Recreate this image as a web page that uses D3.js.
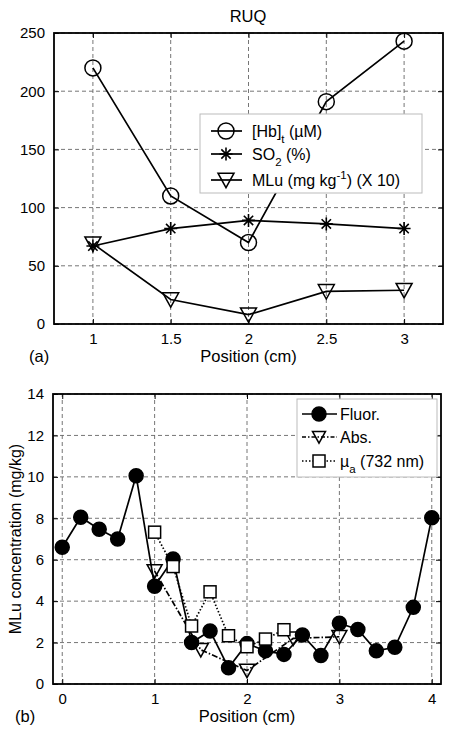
<!DOCTYPE html>
<html><head><meta charset="utf-8">
<script src="https://cdn.jsdelivr.net/npm/d3@7"></script>
<style>
html,body{margin:0;padding:0;background:#fff;}
text{font-family:"Liberation Sans",Arial,sans-serif;fill:#000;}
</style></head>
<body>
<svg id="c" width="450" height="732"></svg>
<script>
// ---- Data: panel (a) ----
const posA = [1, 1.5, 2, 2.5, 3];
const hbT = [220, 110, 70, 191, 243];
const so2 = [67, 82, 89, 86, 82];
const mluA = [69, 21, 8, 28, 29];
const xTicksA = [1, 1.5, 2, 2.5, 3];
const yTicksA = [0, 50, 100, 150, 200, 250];

// ---- Data: panel (b) ----
const fluorX = [0, 0.2, 0.4, 0.6, 0.8, 1.0, 1.2, 1.4, 1.6, 1.8, 2.0, 2.2, 2.4, 2.6, 2.8, 3.0, 3.2, 3.4, 3.6, 3.8, 4.0];
const fluorY = [6.6, 8.05, 7.47, 7.0, 10.05, 4.72, 6.03, 2.0, 2.56, 0.78, 1.95, 1.6, 1.43, 2.37, 1.38, 2.93, 2.63, 1.6, 1.77, 3.7, 8.03];
const absX = [1, 1.5, 2, 2.5, 3];
const absY = [5.45, 1.65, 0.65, 2.2, 2.28];
const muaX = [1, 1.2, 1.4, 1.6, 1.8, 2.0, 2.2, 2.4];
const muaY = [7.33, 5.67, 2.8, 4.45, 2.33, 1.8, 2.17, 2.62];
const xTicksB = [0, 1, 2, 3, 4];
const yTicksB = [0, 2, 4, 6, 8, 10, 12, 14];

const svg = d3.select("#c");
const FS = 15;

function frame(g, x, y, xt, yt, xlab, panelLab, labY) {
  const [x0, x1] = x.range(), [y0, y1] = y.range();
  g.append("g").selectAll("line").data(xt).join("line")
    .attr("x1", d => x(d)).attr("x2", d => x(d)).attr("y1", y0).attr("y2", y1)
    .attr("stroke", "#666").attr("stroke-width", 0.9).attr("stroke-dasharray", "4,3");
  g.append("g").selectAll("line").data(yt).join("line")
    .attr("y1", d => y(d)).attr("y2", d => y(d)).attr("x1", x0).attr("x2", x1)
    .attr("stroke", "#666").attr("stroke-width", 0.9).attr("stroke-dasharray", "4,3");
  g.append("g").attr("transform", `translate(0,${y0})`)
    .call(d3.axisBottom(x).tickValues(xt).tickSize(-5).tickPadding(9).tickFormat(d3.format("")))
    .call(a => a.select(".domain").remove());
  g.append("g").attr("transform", `translate(0,${y1})`)
    .call(d3.axisTop(x).tickValues(xt).tickSize(-5).tickFormat(""))
    .call(a => a.select(".domain").remove());
  g.append("g").attr("transform", `translate(${x0},0)`)
    .call(d3.axisLeft(y).tickValues(yt).tickSize(-5).tickPadding(9))
    .call(a => a.select(".domain").remove());
  g.append("g").attr("transform", `translate(${x1},0)`)
    .call(d3.axisRight(y).tickValues(yt).tickSize(-5).tickFormat(""))
    .call(a => a.select(".domain").remove());
  g.selectAll(".tick line").attr("stroke", "#000").attr("stroke-width", 1);
  g.selectAll(".tick text").attr("font-size", FS).attr("font-family", '"Liberation Sans",Arial,sans-serif').attr("fill", "#000");
  g.append("rect").attr("x", x0).attr("y", y1).attr("width", x1 - x0).attr("height", y0 - y1)
    .attr("fill", "none").attr("stroke", "#000").attr("stroke-width", 1.8);
  g.append("text").attr("x", (x0 + x1) / 2).attr("y", labY).attr("text-anchor", "middle")
    .attr("font-size", 16.5).text(xlab);
  g.append("text").attr("x", panelLab[0]).attr("y", labY).attr("font-size", 16.5).text(panelLab[1]);
}

function drawMarker(sel, type, size, fill) {
  const s = size / 2;
  if (type === "circle") {
    sel.append("circle").attr("r", s).attr("fill", fill).attr("stroke", "#000").attr("stroke-width", 1.5);
  } else if (type === "tri") {
    sel.append("path").attr("d", `M${-s},${-s * 0.85}L${s},${-s * 0.85}L0,${s * 0.95}Z`)
      .attr("fill", fill).attr("stroke", "#000").attr("stroke-width", 1.5);
  } else if (type === "square") {
    sel.append("rect").attr("x", -s).attr("y", -s).attr("width", size).attr("height", size)
      .attr("fill", fill).attr("stroke", "#000").attr("stroke-width", 1.5);
  } else if (type === "star") {
    const d = s * 0.72;
    sel.append("path").attr("d", `M${-s},0L${s},0M0,${-s}L0,${s}M${-d},${-d}L${d},${d}M${-d},${d}L${d},${-d}`)
      .attr("stroke", "#000").attr("stroke-width", 1.6).attr("fill", "none");
  }
}

function series(g, x, y, xs, ys, dash, type, size, fill) {
  const pts = xs.map((v, i) => [v, ys[i]]);
  g.append("path").datum(pts)
    .attr("d", d3.line().x(d => x(d[0])).y(d => y(d[1])))
    .attr("fill", "none").attr("stroke", "#000").attr("stroke-width", 1.7)
    .attr("stroke-dasharray", dash);
  g.append("g").selectAll("g").data(pts).join("g")
    .attr("transform", d => `translate(${x(d[0])},${y(d[1])})`)
    .each(function () { drawMarker(d3.select(this), type, size, fill); });
}

// ===== Panel (a) =====
const xA = d3.scaleLinear().domain([0.75, 3.25]).range([54, 443]);
const yA = d3.scaleLinear().domain([0, 250]).range([324, 33]);
const gA = svg.append("g");
frame(gA, xA, yA, xTicksA, yTicksA, "Position (cm)", [29, "(a)"], 362);
svg.append("text").attr("x", 248).attr("y", 22).attr("text-anchor", "middle").attr("font-size", 16.5).text("RUQ");
series(gA, xA, yA, posA, hbT, null, "circle", 16, "none");
series(gA, xA, yA, posA, so2, null, "star", 13, "none");
series(gA, xA, yA, posA, mluA, null, "tri", 16, "none");

// legend (a)
const lA = svg.append("g");
lA.append("rect").attr("x", 200).attr("y", 114).attr("width", 222).attr("height", 79)
  .attr("fill", "#fff").attr("stroke", "#bbb").attr("stroke-width", 1);
const legA = [
  { y: 131, type: "circle", size: 16, parts: [["[Hb]", 0], ["t", 1], [" (\u00b5M)", 0]] },
  { y: 154, type: "star", size: 13, parts: [["SO", 0], ["2", 1], [" (%)", 0]] },
  { y: 180, type: "tri", size: 16, parts: [["MLu (mg kg", 0], ["-1", -1], [") (X 10)", 0]] }
];
legA.forEach(e => {
  lA.append("line").attr("x1", 211).attr("x2", 242).attr("y1", e.y).attr("y2", e.y).attr("stroke", "#000").attr("stroke-width", 1.7);
  drawMarker(lA.append("g").attr("transform", `translate(226,${e.y})`), e.type, e.size, "none");
  const t = lA.append("text").attr("x", 252).attr("y", e.y + 5.5).attr("font-size", 16);
  e.parts.forEach((p, i) => {
    const ts = t.append("tspan").text(p[0]);
    if (p[1] === 1) ts.attr("font-size", 11.5).attr("dy", 6);
    else if (p[1] === -1) ts.attr("font-size", 11.5).attr("dy", -7);
    else if (i > 0 && e.parts[i - 1][1] === 1) ts.attr("dy", -6);
    else if (i > 0 && e.parts[i - 1][1] === -1) ts.attr("dy", 7);
  });
});

// ===== Panel (b) =====
const xB = d3.scaleLinear().domain([-0.1, 4.1]).range([53, 441]);
const yB = d3.scaleLinear().domain([0, 14]).range([684, 394]);
const gB = svg.append("g");
frame(gB, xB, yB, xTicksB, yTicksB, "Position (cm)", [15, "(b)"], 722);
svg.append("text").attr("transform", `translate(21,539) rotate(-90)`).attr("text-anchor", "middle")
  .attr("font-size", 16).text("MLu concentration (mg/kg)");
series(gB, xB, yB, fluorX, fluorY, null, "circle", 14, "#000");
series(gB, xB, yB, absX, absY, "6,2,1.5,2", "tri", 15, "none");
series(gB, xB, yB, muaX, muaY, "1.5,2", "square", 12, "#fff");

// legend (b)
const lB = svg.append("g");
lB.append("rect").attr("x", 297).attr("y", 399).attr("width", 140).attr("height", 78)
  .attr("fill", "#fff").attr("stroke", "#bbb").attr("stroke-width", 1);
const legB = [
  { y: 414, type: "circle", size: 14, fill: "#000", dash: null, parts: [["Fluor.", 0]] },
  { y: 437, type: "tri", size: 13, fill: "none", dash: "4,2,1.5,2", parts: [["Abs.", 0]] },
  { y: 461, type: "square", size: 12, fill: "#fff", dash: "1.5,2", parts: [["\u00b5", 0], ["a", 1], [" (732 nm)", 0]] }
];
legB.forEach(e => {
  lB.append("line").attr("x1", 302).attr("x2", 337).attr("y1", e.y).attr("y2", e.y).attr("stroke", "#000")
    .attr("stroke-width", 1.7).attr("stroke-dasharray", e.dash);
  drawMarker(lB.append("g").attr("transform", `translate(319,${e.y})`), e.type, e.size, e.fill);
  const t = lB.append("text").attr("x", 340).attr("y", e.y + 5.5).attr("font-size", 16);
  e.parts.forEach((p, i) => {
    const ts = t.append("tspan").text(p[0]);
    if (p[1] === 1) ts.attr("font-size", 11.5).attr("dy", 6);
    else if (i > 0 && e.parts[i - 1][1] === 1) ts.attr("dy", -6);
  });
});
</script>
</body></html>
